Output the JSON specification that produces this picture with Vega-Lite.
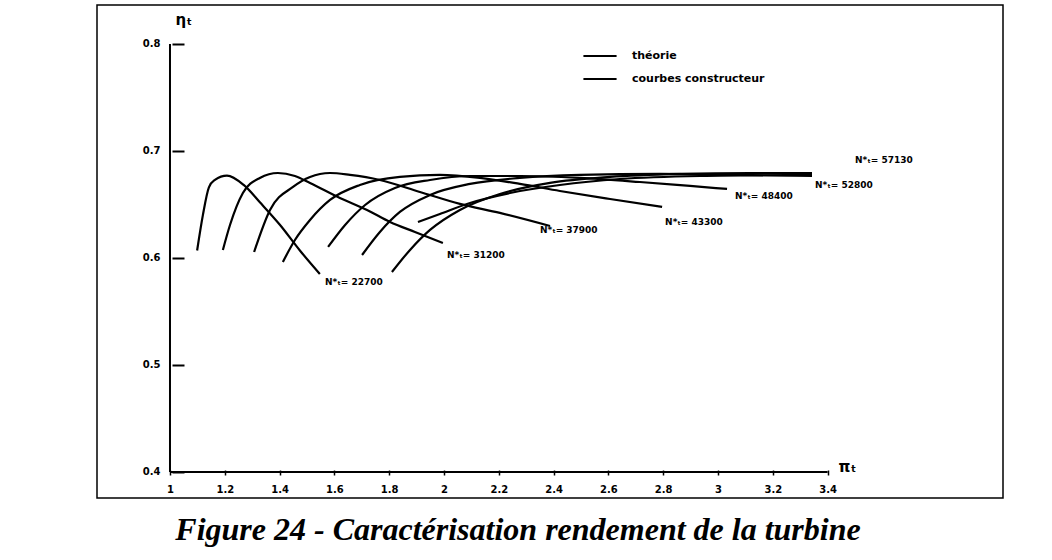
{
  "$schema": "https://vega.github.io/schema/vega-lite/v6.json",
  "autosize": {"type": "none"},
  "padding": {"left": 97, "top": 5, "right": 49, "bottom": 62},
  "width": 906,
  "height": 493,
  "background": "white",
  "config": {"view": {"stroke": "black", "strokeWidth": 1.5}, "font": "DejaVu Sans"},
  "title": {
    "text": "Figure 24 - Caractérisation rendement de la turbine",
    "orient": "bottom", "anchor": "middle", "dx": -32, "offset": 17,
    "font": "Liberation Serif", "fontSize": 32, "fontStyle": "italic", "fontWeight": "bold", "color": "black"
  },
  "datasets": {
    "curves": [
      {"curve": "22700", "type": "courbes constructeur", "pi": 1.099, "eta": 0.607},
      {"curve": "22700", "type": "courbes constructeur", "pi": 1.120, "eta": 0.640},
      {"curve": "22700", "type": "courbes constructeur", "pi": 1.142, "eta": 0.666},
      {"curve": "22700", "type": "courbes constructeur", "pi": 1.164, "eta": 0.673},
      {"curve": "22700", "type": "courbes constructeur", "pi": 1.208, "eta": 0.677},
      {"curve": "22700", "type": "courbes constructeur", "pi": 1.270, "eta": 0.668},
      {"curve": "22700", "type": "courbes constructeur", "pi": 1.328, "eta": 0.652},
      {"curve": "22700", "type": "courbes constructeur", "pi": 1.401, "eta": 0.631},
      {"curve": "22700", "type": "courbes constructeur", "pi": 1.474, "eta": 0.607},
      {"curve": "22700", "type": "courbes constructeur", "pi": 1.547, "eta": 0.585},
      {"curve": "31200", "type": "courbes constructeur", "pi": 1.193, "eta": 0.6075},
      {"curve": "31200", "type": "courbes constructeur", "pi": 1.219, "eta": 0.6308},
      {"curve": "31200", "type": "courbes constructeur", "pi": 1.266, "eta": 0.6607},
      {"curve": "31200", "type": "courbes constructeur", "pi": 1.328, "eta": 0.6748},
      {"curve": "31200", "type": "courbes constructeur", "pi": 1.394, "eta": 0.6794},
      {"curve": "31200", "type": "courbes constructeur", "pi": 1.456, "eta": 0.6766},
      {"curve": "31200", "type": "courbes constructeur", "pi": 1.511, "eta": 0.6701},
      {"curve": "31200", "type": "courbes constructeur", "pi": 1.620, "eta": 0.6561},
      {"curve": "31200", "type": "courbes constructeur", "pi": 1.719, "eta": 0.6449},
      {"curve": "31200", "type": "courbes constructeur", "pi": 1.803, "eta": 0.6336},
      {"curve": "31200", "type": "courbes constructeur", "pi": 1.894, "eta": 0.6243},
      {"curve": "31200", "type": "courbes constructeur", "pi": 1.996, "eta": 0.6140},
      {"curve": "37900", "type": "courbes constructeur", "pi": 1.307, "eta": 0.6056},
      {"curve": "37900", "type": "courbes constructeur", "pi": 1.365, "eta": 0.6449},
      {"curve": "37900", "type": "courbes constructeur", "pi": 1.449, "eta": 0.6664},
      {"curve": "37900", "type": "courbes constructeur", "pi": 1.511, "eta": 0.6757},
      {"curve": "37900", "type": "courbes constructeur", "pi": 1.584, "eta": 0.6794},
      {"curve": "37900", "type": "courbes constructeur", "pi": 1.657, "eta": 0.6776},
      {"curve": "37900", "type": "courbes constructeur", "pi": 1.766, "eta": 0.6729},
      {"curve": "37900", "type": "courbes constructeur", "pi": 1.912, "eta": 0.6617},
      {"curve": "37900", "type": "courbes constructeur", "pi": 2.058, "eta": 0.6505},
      {"curve": "37900", "type": "courbes constructeur", "pi": 2.204, "eta": 0.6421},
      {"curve": "37900", "type": "courbes constructeur", "pi": 2.387, "eta": 0.6299},
      {"curve": "43300", "type": "courbes constructeur", "pi": 1.412, "eta": 0.5963},
      {"curve": "43300", "type": "courbes constructeur", "pi": 1.456, "eta": 0.6168},
      {"curve": "43300", "type": "courbes constructeur", "pi": 1.511, "eta": 0.6355},
      {"curve": "43300", "type": "courbes constructeur", "pi": 1.584, "eta": 0.6542},
      {"curve": "43300", "type": "courbes constructeur", "pi": 1.693, "eta": 0.6682},
      {"curve": "43300", "type": "courbes constructeur", "pi": 1.839, "eta": 0.6757},
      {"curve": "43300", "type": "courbes constructeur", "pi": 1.985, "eta": 0.6776},
      {"curve": "43300", "type": "courbes constructeur", "pi": 2.131, "eta": 0.6748},
      {"curve": "43300", "type": "courbes constructeur", "pi": 2.277, "eta": 0.6692},
      {"curve": "43300", "type": "courbes constructeur", "pi": 2.423, "eta": 0.6626},
      {"curve": "43300", "type": "courbes constructeur", "pi": 2.606, "eta": 0.6551},
      {"curve": "43300", "type": "courbes constructeur", "pi": 2.796, "eta": 0.6477},
      {"curve": "48400", "type": "courbes constructeur", "pi": 1.577, "eta": 0.6103},
      {"curve": "48400", "type": "courbes constructeur", "pi": 1.639, "eta": 0.6308},
      {"curve": "48400", "type": "courbes constructeur", "pi": 1.712, "eta": 0.6495},
      {"curve": "48400", "type": "courbes constructeur", "pi": 1.821, "eta": 0.6654},
      {"curve": "48400", "type": "courbes constructeur", "pi": 1.949, "eta": 0.6729},
      {"curve": "48400", "type": "courbes constructeur", "pi": 2.095, "eta": 0.6766},
      {"curve": "48400", "type": "courbes constructeur", "pi": 2.277, "eta": 0.6766},
      {"curve": "48400", "type": "courbes constructeur", "pi": 2.496, "eta": 0.6748},
      {"curve": "48400", "type": "courbes constructeur", "pi": 2.715, "eta": 0.6710},
      {"curve": "48400", "type": "courbes constructeur", "pi": 2.898, "eta": 0.6673},
      {"curve": "48400", "type": "courbes constructeur", "pi": 3.033, "eta": 0.6645},
      {"curve": "52800", "type": "courbes constructeur", "pi": 1.701, "eta": 0.6028},
      {"curve": "52800", "type": "courbes constructeur", "pi": 1.766, "eta": 0.6243},
      {"curve": "52800", "type": "courbes constructeur", "pi": 1.839, "eta": 0.6430},
      {"curve": "52800", "type": "courbes constructeur", "pi": 1.949, "eta": 0.6589},
      {"curve": "52800", "type": "courbes constructeur", "pi": 2.095, "eta": 0.6692},
      {"curve": "52800", "type": "courbes constructeur", "pi": 2.277, "eta": 0.6748},
      {"curve": "52800", "type": "courbes constructeur", "pi": 2.496, "eta": 0.6776},
      {"curve": "52800", "type": "courbes constructeur", "pi": 2.788, "eta": 0.6785},
      {"curve": "52800", "type": "courbes constructeur", "pi": 3.080, "eta": 0.6776},
      {"curve": "52800", "type": "courbes constructeur", "pi": 3.343, "eta": 0.6766},
      {"curve": "57130", "type": "courbes constructeur", "pi": 1.810, "eta": 0.5869},
      {"curve": "57130", "type": "courbes constructeur", "pi": 1.876, "eta": 0.6075},
      {"curve": "57130", "type": "courbes constructeur", "pi": 1.949, "eta": 0.6262},
      {"curve": "57130", "type": "courbes constructeur", "pi": 2.058, "eta": 0.6449},
      {"curve": "57130", "type": "courbes constructeur", "pi": 2.204, "eta": 0.6598},
      {"curve": "57130", "type": "courbes constructeur", "pi": 2.387, "eta": 0.6701},
      {"curve": "57130", "type": "courbes constructeur", "pi": 2.606, "eta": 0.6757},
      {"curve": "57130", "type": "courbes constructeur", "pi": 2.861, "eta": 0.6785},
      {"curve": "57130", "type": "courbes constructeur", "pi": 3.117, "eta": 0.6794},
      {"curve": "57130", "type": "courbes constructeur", "pi": 3.343, "eta": 0.6794},
      {"curve": "H", "type": "courbes constructeur", "pi": 1.905, "eta": 0.6336},
      {"curve": "H", "type": "courbes constructeur", "pi": 1.985, "eta": 0.6411},
      {"curve": "H", "type": "courbes constructeur", "pi": 2.095, "eta": 0.6514},
      {"curve": "H", "type": "courbes constructeur", "pi": 2.241, "eta": 0.6607},
      {"curve": "H", "type": "courbes constructeur", "pi": 2.423, "eta": 0.6682},
      {"curve": "H", "type": "courbes constructeur", "pi": 2.642, "eta": 0.6738},
      {"curve": "H", "type": "courbes constructeur", "pi": 2.934, "eta": 0.6766},
      {"curve": "H", "type": "courbes constructeur", "pi": 3.343, "eta": 0.6776}
    ],
    "labels": [
      {"text": "N*ₜ= 22700", "pi": 1.566, "eta": 0.5776},
      {"text": "N*ₜ= 31200", "pi": 2.011, "eta": 0.6028},
      {"text": "N*ₜ= 37900", "pi": 2.350, "eta": 0.6262},
      {"text": "N*ₜ= 43300", "pi": 2.807, "eta": 0.6336},
      {"text": "N*ₜ= 48400", "pi": 3.062, "eta": 0.6579},
      {"text": "N*ₜ= 52800", "pi": 3.354, "eta": 0.6682},
      {"text": "N*ₜ= 57130", "pi": 3.500, "eta": 0.6916}
    ]
  },
  "layer": [
    {
      "data": {"name": "curves"},
      "mark": {"type": "line", "strokeWidth": 2.2, "interpolate": "monotone"},
      "encoding": {
        "x": {
          "field": "pi", "type": "quantitative",
          "scale": {"domain": [0.7336, 4.0401], "nice": false, "zero": false},
          "axis": {
            "title": null, "orient": "bottom", "offset": -23, "domain": false, "grid": false,
            "values": [1, 1.2, 1.4, 1.6, 1.8, 2, 2.2, 2.4, 2.6, 2.8, 3, 3.2, 3.4],
            "format": "~g", "tickSize": -5, "tickWidth": 1.5, "tickColor": "black",
            "labelPadding": 14, "labelFont": "DejaVu Sans", "labelFontSize": 10,
            "labelFontWeight": "bold", "labelColor": "black"
          }
        },
        "y": {
          "field": "eta", "type": "quantitative",
          "scale": {"domain": [0.3757, 0.8364], "nice": false, "zero": false},
          "axis": {
            "title": null, "orient": "left", "offset": -75, "domain": false, "grid": false,
            "values": [0.4, 0.5, 0.6, 0.7, 0.8], "format": ".1f",
            "tickSize": -12, "tickWidth": 2, "tickColor": "black",
            "labelPadding": 24, "labelFont": "DejaVu Sans", "labelFontSize": 10,
            "labelFontWeight": "bold", "labelColor": "black"
          }
        },
        "detail": {"field": "curve", "type": "nominal"},
        "color": {
          "field": "type", "type": "nominal",
          "scale": {"domain": ["théorie", "courbes constructeur"], "range": ["black", "black"]},
          "legend": {
            "orient": "none", "legendX": 485, "legendY": 33, "title": null, "padding": 0,
            "symbolType": "stroke", "symbolSize": 1100, "symbolStrokeWidth": 2,
            "labelFont": "DejaVu Sans", "labelFontSize": 11, "labelFontWeight": "bold",
            "labelColor": "black", "labelOffset": 14, "rowPadding": -2
          }
        }
      }
    },
    {
      "data": {"values": [{}]},
      "mark": {"type": "rule", "strokeWidth": 2, "color": "black"},
      "encoding": {
        "x": {"datum": 1, "type": "quantitative", "axis": {"title": null}},
        "y": {"datum": 0.4, "type": "quantitative", "axis": {"title": null}},
        "y2": {"datum": 0.8}
      }
    },
    {
      "data": {"values": [{}]},
      "mark": {"type": "rule", "strokeWidth": 2, "color": "black"},
      "encoding": {
        "y": {"datum": 0.4, "type": "quantitative", "axis": {"title": null}},
        "x": {"datum": 1, "type": "quantitative", "axis": {"title": null}},
        "x2": {"datum": 3.4}
      }
    },
    {
      "data": {"name": "labels"},
      "mark": {"type": "text", "align": "left", "baseline": "middle", "font": "DejaVu Sans", "fontSize": 9, "fontWeight": "bold", "color": "black"},
      "encoding": {
        "x": {"field": "pi", "type": "quantitative", "axis": {"title": null}},
        "y": {"field": "eta", "type": "quantitative", "axis": {"title": null}},
        "text": {"field": "text"}
      }
    },
    {
      "data": {"values": [{}]},
      "mark": {"type": "text", "text": "ηₜ", "align": "left", "baseline": "bottom", "font": "DejaVu Sans", "fontSize": 15, "fontWeight": "bold", "color": "black"},
      "encoding": {
        "x": {"datum": 1.02, "type": "quantitative", "axis": {"title": null}},
        "y": {"datum": 0.815, "type": "quantitative", "axis": {"title": null}}
      }
    },
    {
      "data": {"values": [{}]},
      "mark": {"type": "text", "text": "πₜ", "align": "left", "baseline": "middle", "font": "DejaVu Sans", "fontSize": 15, "fontWeight": "bold", "color": "black"},
      "encoding": {
        "x": {"datum": 3.44, "type": "quantitative", "axis": {"title": null}},
        "y": {"datum": 0.405, "type": "quantitative", "axis": {"title": null}}
      }
    }
  ]
}
